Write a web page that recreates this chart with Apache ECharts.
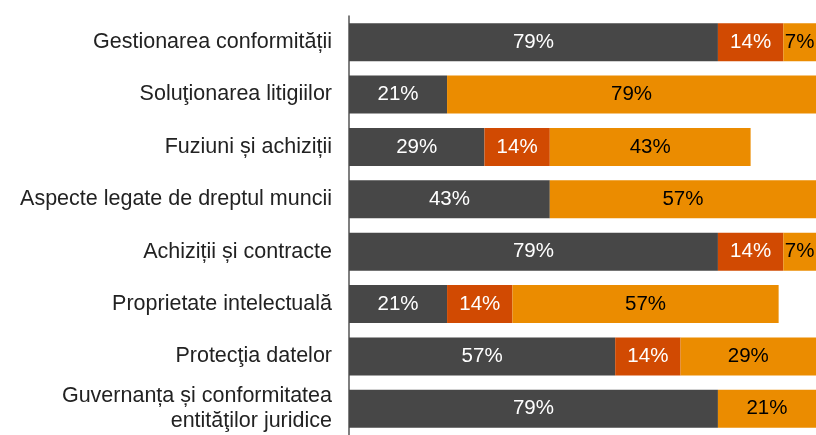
<!DOCTYPE html>
<html lang="ro">
  <head>
    <meta charset="UTF-8" />
    <title>Domenii juridice</title>
    <script src="https://cdn.jsdelivr.net/npm/echarts@6.0.0/dist/echarts.min.js"></script>
    <style>
      html, body { margin: 0; padding: 0; background: #fff; }
      #main { width: 816px; height: 435px; }
    </style>
  </head>
  <body>
    <div id="main"></div>
    <script>
      // categories, top to bottom
      const categories = [
        "Gestionarea conformității",
        "Soluţionarea litigiilor",
        "Fuziuni și achiziții",
        "Aspecte legate de dreptul muncii",
        "Achiziții și contracte",
        "Proprietate intelectuală",
        "Protecţia datelor",
        "Guvernanța și conformitatea\nentităţilor juridice"
      ];

      // shares in % (three segments per row)
      const darkValues = [79, 21, 29, 43, 79, 21, 57, 79];
      const redValues = [14, 0, 14, 0, 14, 14, 14, 0];
      const orangeValues = [7, 79, 43, 57, 7, 57, 29, 21];

      const seriesNames = ["A", "B", "C"];
      const colors = ["#474747", "#d14a02", "#eb8c00"];
      const labelColors = ["#ffffff", "#ffffff", "#000000"];

      const chart = echarts.init(document.getElementById("main"));

      const allValues = [darkValues, redValues, orangeValues];

      const series = allValues.map((vals, i) => ({
        name: seriesNames[i],
        type: "bar",
        stack: "total",
        barWidth: 38,
        data: vals,
        itemStyle: { color: colors[i] },
        label: {
          show: true,
          position: "inside",
          color: labelColors[i],
          fontSize: 20.5,
          fontFamily: "Liberation Sans",
          formatter: (p) => (p.value > 0 ? p.value + "%" : "")
        },
        emphasis: { disabled: true }
      }));

      chart.setOption({
        animation: false,
        grid: { left: 349, right: 0, top: 16, bottom: 0, containLabel: false },
        xAxis: {
          type: "value",
          min: 0,
          max: 100,
          show: false,
          splitLine: { show: false }
        },
        yAxis: {
          type: "category",
          inverse: true,
          data: categories,
          axisLine: { show: true, lineStyle: { color: "#555", width: 1.5 } },
          axisTick: { show: false },
          axisLabel: {
            color: "#222",
            fontSize: 21.5,
            fontFamily: "Liberation Sans",
            margin: 17,
            lineHeight: 25,
            align: "right"
          }
        },
        series: series
      });
    </script>
  </body>
</html>
